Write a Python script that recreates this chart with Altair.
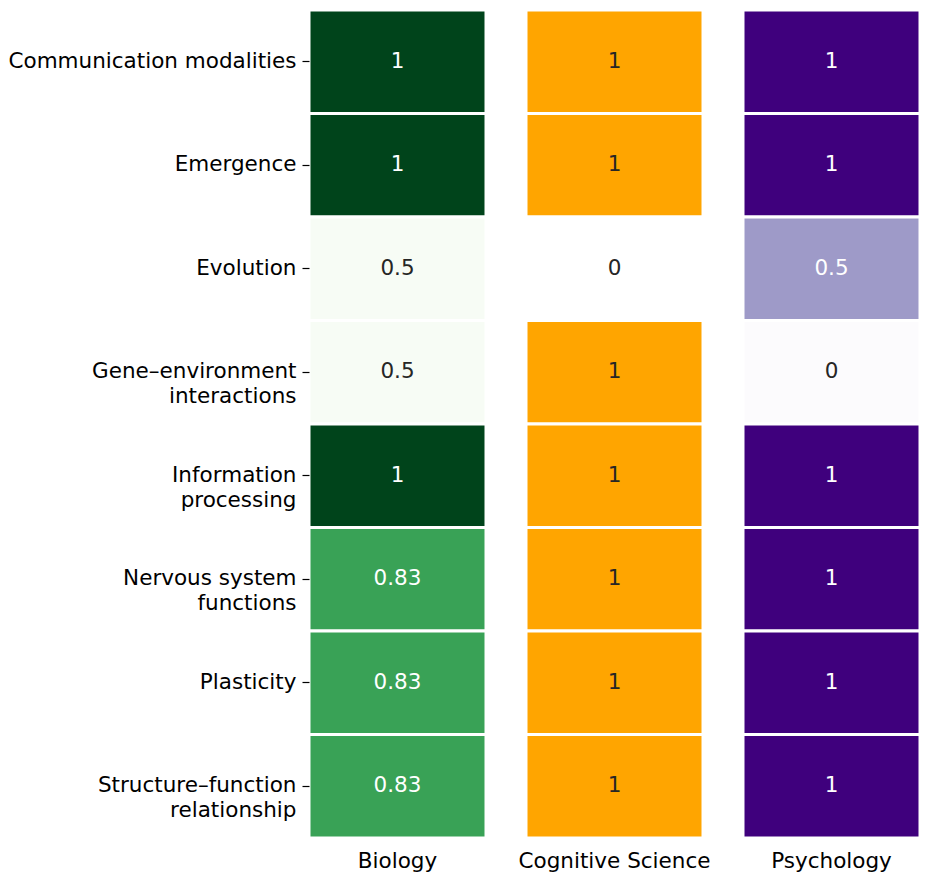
import altair as alt
import pandas as pd

NB = "\u00a0"
topics = [
    "Communication modalities",
    "Emergence",
    "Evolution",
    "Gene–environment" + NB + "\ninteractions",
    "Information" + NB + "\nprocessing",
    "Nervous system" + NB + "\nfunctions",
    "Plasticity",
    "Structure–function\nrelationship",
]
disciplines = ["Biology", "Cognitive Science", "Psychology"]
biology = [1, 1, 0.5, 0.5, 1, 0.83, 0.83, 0.83]
cognitive = [1, 1, 0, 1, 1, 1, 1, 1]
psychology = [1, 1, 0.5, 0, 1, 1, 1, 1]

# ColorBrewer sequential stops (as used by matplotlib's Greens / Purples)
greens = ["#f7fcf5", "#e5f5e0", "#c7e9c0", "#a1d99b", "#74c476",
          "#41ab5d", "#238b45", "#006d2c", "#00441b"]
purples = ["#fcfbfd", "#efedf5", "#dadaeb", "#bcbddc", "#9e9ac8",
           "#807dba", "#6a51a3", "#54278f", "#3f007d"]

FONT = "DejaVu Sans"
FS = 21.5


def stops(lo, hi, n):
    return [lo + (hi - lo) * i / (n - 1) for i in range(n)]


def panel(name, vals, color_scale, thr, show_axis):
    df = pd.DataFrame({
        "topic": topics,
        "discipline": name,
        "value": vals,
        "label": [f"{v:g}" for v in vals],
    })
    yaxis = alt.Axis(
        title=None, domain=False, tickSize=7, tickColor="black", tickWidth=1.2,
        labelPadding=6, labelLineHeight=25, labelAlign="right", labelLimit=0,
        labelExpr="split(datum.value, '\\n')",
    ) if show_axis else None
    base = alt.Chart(df).encode(
        x=alt.X("discipline:N",
                axis=alt.Axis(title=None, labelAngle=0, tickSize=0,
                              labelPadding=12, domain=False, labelLimit=0),
                scale=alt.Scale(paddingInner=0, paddingOuter=0)),
        y=alt.Y("topic:N", sort=topics, axis=yaxis,
                scale=alt.Scale(paddingInner=0, paddingOuter=0)),
    )
    rect = base.mark_rect(stroke="white", strokeWidth=3).encode(
        color=alt.Color("value:Q", scale=color_scale, legend=None)
    )
    text = base.mark_text(fontSize=FS, font=FONT).encode(
        text="label:N",
        color=alt.condition(f"datum.value >= {thr}", alt.value("white"), alt.value("#262626")),
    )
    return (rect + text).properties(width=177, height=828)


p1 = panel(disciplines[0], biology,
           alt.Scale(domain=stops(0.5, 1, 9), range=greens, interpolate="rgb"), 0.75, True)
p2 = panel(disciplines[1], cognitive,
           alt.Scale(domain=[0, 1], range=["#ffffff", "#ffa500"], interpolate="rgb"), 2, False)
p3 = panel(disciplines[2], psychology,
           alt.Scale(domain=stops(0, 1, 9), range=purples, interpolate="rgb"), 0.4, False)

chart = (
    alt.hconcat(p1, p2, p3, spacing=40, bounds="flush")
    .resolve_scale(color="independent", x="independent")
    .properties(padding={"left": 0, "top": 0, "right": 0, "bottom": 0})
    .configure_view(stroke=None)
    .configure_axis(labelFont=FONT, labelFontSize=FS, labelColor="black")
)

chart.save("out.html", embed_options={"renderer": "svg", "actions": False})
